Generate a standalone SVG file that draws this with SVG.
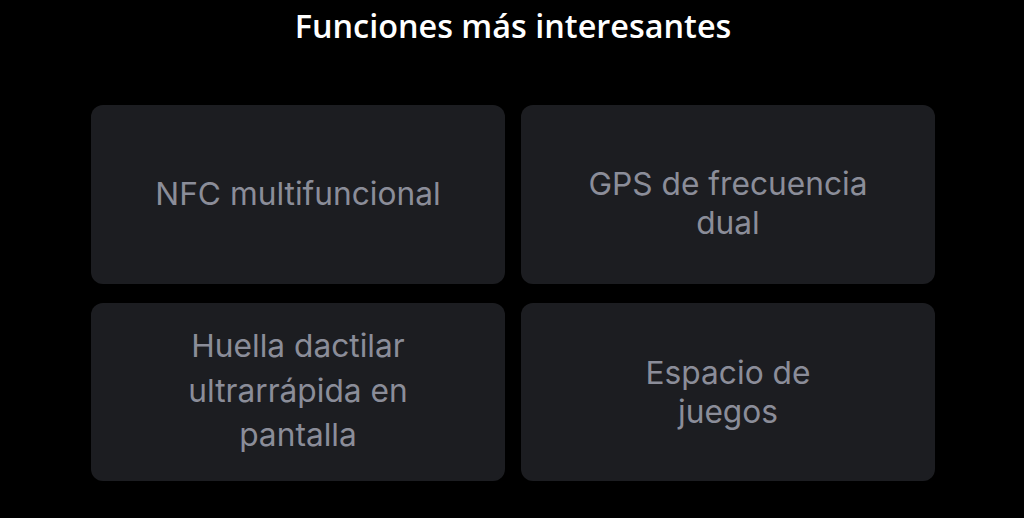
<svg xmlns="http://www.w3.org/2000/svg" width="1024" height="518" viewBox="0 0 1024 518">
<style>
.card{fill:#1c1d21}
.lbl{font-family:Inter,"Noto Sans",sans-serif;font-size:31.7px;fill:#8b8d99;text-anchor:middle}
.title{font-family:"Open Sans",sans-serif;font-weight:600;font-size:32.4px;fill:#ffffff;text-anchor:middle}
</style>
<rect width="1024" height="518" fill="#000000"/>
<text class="title" x="513" y="38">Funciones más interesantes</text>
<g id="n1"><rect class="card" x="91" y="105" width="414" height="179" rx="12"/><text class="lbl" x="298" y="205">NFC multifuncional</text></g>
<g id="n2"><rect class="card" x="521" y="105" width="414" height="179" rx="12"/><text class="lbl" x="728" y="195">GPS de frecuencia</text><text class="lbl" x="728" y="234">dual</text></g>
<g id="n3"><rect class="card" x="91" y="303" width="414" height="178" rx="12"/><text class="lbl" x="298" y="357">Huella dactilar</text><text class="lbl" x="298" y="402">ultrarrápida en</text><text class="lbl" x="298" y="446">pantalla</text></g>
<g id="n4"><rect class="card" x="521" y="303" width="414" height="178" rx="12"/><text class="lbl" x="728" y="384">Espacio de</text><text class="lbl" x="728" y="423">juegos</text></g>
<g id="connectors"/>
</svg>
